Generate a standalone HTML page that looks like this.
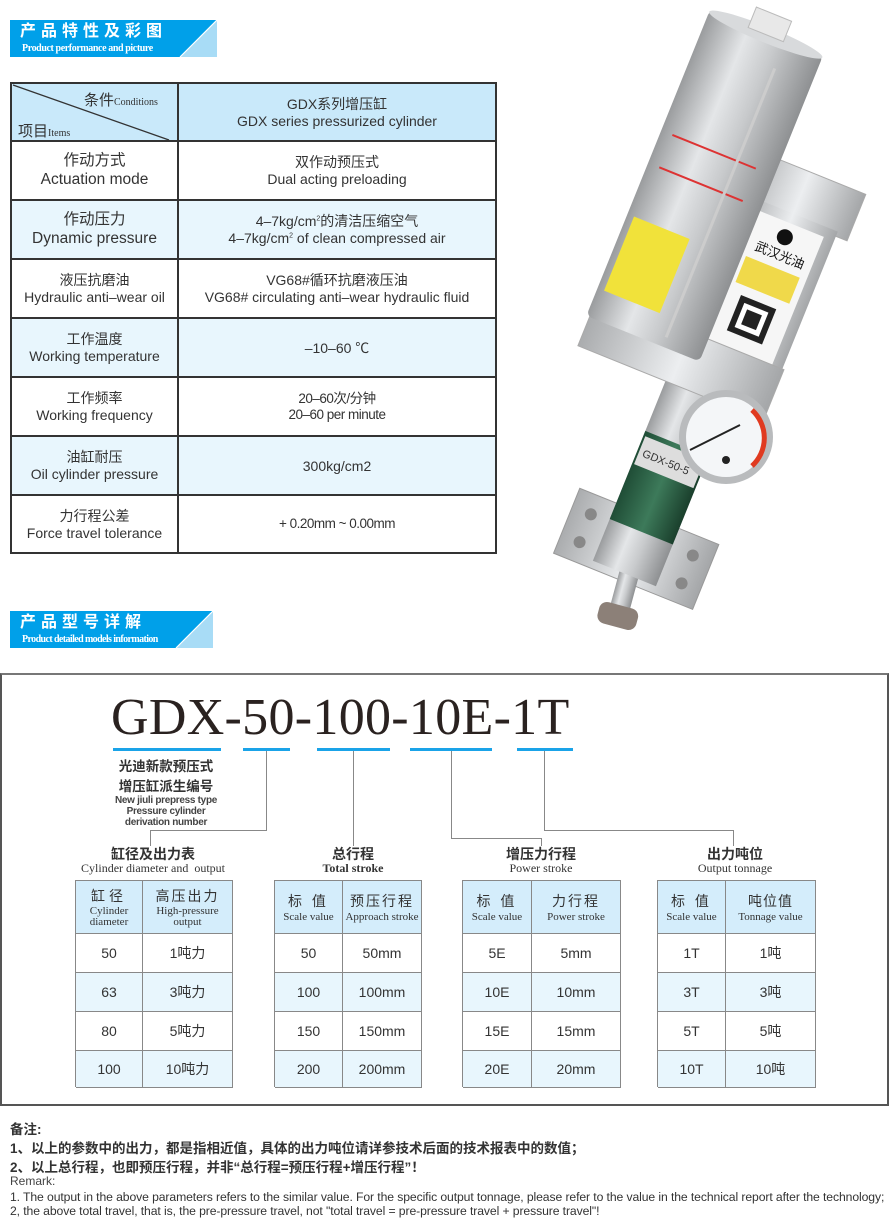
<!DOCTYPE html>
<html><head><meta charset="utf-8"><style>
*{margin:0;padding:0;box-sizing:border-box}
body{width:890px;height:1216px;background:#fff;position:relative;overflow:hidden;font-family:"Liberation Sans","Noto Sans CJK SC",sans-serif;color:#333}
.a{position:absolute}
.banner{position:absolute;height:37px;background:#00a0e9;overflow:hidden}
.banner .cn{position:absolute;left:10px;top:1px;color:#fff;font-size:16px;font-weight:bold;letter-spacing:5px;white-space:nowrap;line-height:21px}
.banner .en{position:absolute;left:12px;top:23px;color:#fff;font-family:"Liberation Serif",serif;font-size:10px;font-weight:bold;white-space:nowrap;letter-spacing:-0.4px;line-height:11px}
.cell{position:absolute;display:flex;flex-direction:column;align-items:center;justify-content:center;text-align:center;line-height:1.2}
.hl{position:absolute;background:#333;height:2px}
.vl{position:absolute;background:#333;width:2px}
.sc{position:absolute;display:flex;flex-direction:column;align-items:center;justify-content:center;text-align:center;font-size:14px;border-right:1px solid #888;border-bottom:1px solid #888}
.ser{font-family:"Liberation Serif",serif}
.ttl{position:absolute;text-align:center;line-height:1.15}
.ttl .c{font-size:14px;font-weight:bold;color:#333}
.ttl .e{font-family:"Liberation Serif",serif;font-size:12px;color:#333}
.ln{position:absolute;background:#888}
.ul{position:absolute;top:748px;height:3px;background:#1aa3e8}
.rm{position:absolute;left:10px;white-space:nowrap}
</style></head><body>

<div class="banner" style="left:10px;top:20px;width:207px">
<div class="cn">产品特性及彩图</div><div class="en">Product performance and picture</div>
<svg class="a" style="left:0;top:0" width="207" height="37"><polygon points="207,0 207,37 170,37" fill="#a8dcf6"/><line x1="207" y1="0" x2="170" y2="37" stroke="#fff" stroke-width="1.2"/></svg>
</div>

<div class="a" style="left:10px;top:82px;width:486px;height:471px;background:#fff"></div>
<div class="a" style="left:10px;top:82px;width:486px;height:59px;background:#c9e9fa"></div>
<div class="a" style="left:10px;top:200px;width:486px;height:59px;background:#e8f6fd"></div>
<div class="a" style="left:10px;top:318px;width:486px;height:59px;background:#e8f6fd"></div>
<div class="a" style="left:10px;top:436px;width:486px;height:59px;background:#e8f6fd"></div>
<div class="hl" style="left:10px;top:82px;width:486px"></div>
<div class="hl" style="left:10px;top:140px;width:486px"></div>
<div class="hl" style="left:10px;top:199px;width:486px"></div>
<div class="hl" style="left:10px;top:258px;width:486px"></div>
<div class="hl" style="left:10px;top:317px;width:486px"></div>
<div class="hl" style="left:10px;top:376px;width:486px"></div>
<div class="hl" style="left:10px;top:435px;width:486px"></div>
<div class="hl" style="left:10px;top:494px;width:486px"></div>
<div class="hl" style="left:10px;top:552px;width:487px"></div>
<div class="vl" style="left:10px;top:82px;height:472px"></div>
<div class="vl" style="left:177px;top:82px;height:472px"></div>
<div class="vl" style="left:495px;top:82px;height:472px"></div>
<svg class="a" style="left:10px;top:82px" width="170" height="60"><line x1="3" y1="3" x2="159" y2="58" stroke="#333" stroke-width="1.3"/></svg>
<div class="a" style="left:84px;top:89px;font-size:15px">条件<span class="ser" style="font-size:10px">Conditions</span></div>
<div class="a" style="left:18px;top:120px;font-size:15px">项目<span class="ser" style="font-size:10px">Items</span></div>

<div class="cell" style="left:179px;top:84px;width:316px;height:57px;font-size:14px"><div>GDX系列增压缸</div><div>GDX series pressurized cylinder</div></div>

<div class="cell" style="left:12px;top:142px;width:165px;height:58px;font-size:15.5px"><div>作动方式</div><div>Actuation mode</div></div>
<div class="cell" style="left:179px;top:142px;width:316px;height:58px;font-size:14px"><div>双作动预压式</div><div>Dual acting preloading</div></div>

<div class="cell" style="left:12px;top:201px;width:165px;height:58px;font-size:15.5px"><div>作动压力</div><div>Dynamic pressure</div></div>
<div class="cell" style="left:179px;top:201px;width:316px;height:58px;font-size:14px"><div>4–7kg/cm<sup style="font-size:7px">2</sup>的清洁压缩空气</div><div>4–7kg/cm<sup style="font-size:7px">2</sup> of clean compressed air</div></div>

<div class="cell" style="left:12px;top:260px;width:165px;height:58px;font-size:14px"><div>液压抗磨油</div><div>Hydraulic anti–wear oil</div></div>
<div class="cell" style="left:179px;top:260px;width:316px;height:58px;font-size:14px"><div>VG68#循环抗磨液压油</div><div>VG68# circulating anti–wear hydraulic fluid</div></div>

<div class="cell" style="left:12px;top:319px;width:165px;height:58px;font-size:14px"><div>工作温度</div><div>Working temperature</div></div>
<div class="cell" style="left:179px;top:319px;width:316px;height:58px;font-size:14px"><div>–10–60 ℃</div></div>

<div class="cell" style="left:12px;top:378px;width:165px;height:58px;font-size:14px"><div>工作频率</div><div>Working frequency</div></div>
<div class="cell" style="left:179px;top:378px;width:316px;height:58px;font-size:13.5px;letter-spacing:-0.5px"><div>20–60次/分钟</div><div>20–60 per minute</div></div>

<div class="cell" style="left:12px;top:437px;width:165px;height:58px;font-size:14px"><div>油缸耐压</div><div>Oil cylinder pressure</div></div>
<div class="cell" style="left:179px;top:437px;width:316px;height:58px;font-size:14px"><div>300kg/cm2</div></div>

<div class="cell" style="left:12px;top:496px;width:165px;height:57px;font-size:14px"><div>力行程公差</div><div>Force travel tolerance</div></div>
<div class="cell" style="left:179px;top:496px;width:316px;height:57px;font-size:13.5px;letter-spacing:-0.5px"><div>+ 0.20mm ~ 0.00mm</div></div>

<svg class="a" style="left:540px;top:0" width="350" height="640">
<defs>
<linearGradient id="g1" x1="0" x2="1" y1="0" y2="0"><stop offset="0" stop-color="#9a9c9e"/><stop offset="0.35" stop-color="#e4e6e8"/><stop offset="0.6" stop-color="#c8cacc"/><stop offset="1" stop-color="#8e9092"/></linearGradient>
<linearGradient id="g2" x1="0" x2="1" y1="0" y2="0"><stop offset="0" stop-color="#aaacae"/><stop offset="0.5" stop-color="#eceef0"/><stop offset="1" stop-color="#a4a6a8"/></linearGradient>
<linearGradient id="g3" x1="0" x2="1"><stop offset="0" stop-color="#1f4d36"/><stop offset="0.5" stop-color="#3d7a5a"/><stop offset="1" stop-color="#1a3f2c"/></linearGradient>
</defs>
<g transform="rotate(22 60 545)"><rect x="20" y="500" width="150" height="70" fill="url(#g2)" stroke="#999"/><circle cx="40" cy="520" r="6" fill="#888"/><circle cx="150" cy="520" r="6" fill="#888"/><circle cx="40" cy="550" r="6" fill="#888"/><circle cx="150" cy="550" r="6" fill="#888"/></g>
<g transform="rotate(15 80 600)"><rect x="72" y="570" width="20" height="50" fill="url(#g1)"/><rect x="62" y="605" width="40" height="22" rx="8" fill="#8c8078"/></g>
<g transform="rotate(22 120 480)"><rect x="88" y="380" width="68" height="200" fill="url(#g1)"/><rect x="88" y="440" width="68" height="95" fill="url(#g3)"/><rect x="90" y="445" width="64" height="30" fill="#ddd"/><text x="94" y="465" font-size="11" fill="#333" font-family="Liberation Sans">GDX-50-5</text></g>
<g transform="rotate(22 240 300) translate(-20 10)"><rect x="180" y="160" width="120" height="50" fill="url(#g2)" stroke="#aaa"/><rect x="192" y="205" width="96" height="200" fill="url(#g2)"/><rect x="205" y="215" width="72" height="165" fill="#f6f6f6"/><circle cx="241" cy="230" r="8" fill="#111"/><text x="217" y="253" font-size="13" fill="#111" font-family="Liberation Sans, Noto Sans CJK SC, sans-serif">武汉光油</text><rect x="212" y="262" width="58" height="28" fill="#f0d94a"/><rect x="222" y="300" width="38" height="38" fill="#222"/><rect x="228" y="306" width="26" height="26" fill="#fff"/><rect x="233" y="311" width="16" height="16" fill="#222"/></g>
<g transform="rotate(22 140 360)"><rect x="40" y="330" width="200" height="55" fill="url(#g2)" stroke="#aaa"/></g>
<g transform="rotate(22 160 200)"><rect x="98" y="20" width="122" height="330" rx="6" fill="url(#g1)"/><ellipse cx="159" cy="22" rx="61" ry="8" fill="#d8dadc"/><rect x="140" y="0" width="38" height="22" fill="#e8e8e8" stroke="#bbb"/><rect x="105" y="240" width="60" height="80" fill="#f1e23a"/><line x1="110" y1="150" x2="200" y2="150" stroke="#d33" stroke-width="2"/><line x1="110" y1="185" x2="200" y2="185" stroke="#d33" stroke-width="2"/><line x1="180" y1="50" x2="180" y2="340" stroke="#ccc" stroke-width="3"/></g>
<circle cx="186" cy="437" r="47" fill="#b9bbbd"/><circle cx="186" cy="437" r="40" fill="#f4f6f8"/><path d="M212 410 A38 38 0 0 1 212 466" stroke="#e03a20" stroke-width="5" fill="none"/><line x1="150" y1="450" x2="200" y2="425" stroke="#222" stroke-width="2"/><circle cx="186" cy="460" r="4" fill="#222"/>
</svg>

<div class="banner" style="left:10px;top:611px;width:203px">
<div class="cn">产品型号详解</div><div class="en" style="letter-spacing:-0.6px">Product detailed models information</div>
<svg class="a" style="left:0;top:0" width="203" height="37"><polygon points="203,0 203,37 166,37" fill="#a8dcf6"/><line x1="203" y1="0" x2="166" y2="37" stroke="#fff" stroke-width="1.2"/></svg>
</div>

<div class="a" style="left:0;top:673px;width:889px;height:433px;border:2px solid #555;border-top-color:#777"></div>
<div class="a ser" style="left:111px;top:692px;font-size:52px;letter-spacing:0.3px;color:#2a2220;white-space:nowrap;line-height:1">GDX-50-100-10E-1T</div>
<div class="ul" style="left:113px;width:108px"></div>
<div class="ul" style="left:243px;width:47px"></div>
<div class="ul" style="left:317px;width:73px"></div>
<div class="ul" style="left:410px;width:82px"></div>
<div class="ul" style="left:517px;width:56px"></div>

<div class="a" style="left:113px;top:757px;width:106px;text-align:center;font-size:13.5px;font-weight:bold;line-height:20px;color:#333">光迪新款预压式<br>增压缸派生编号</div>
<div class="a" style="left:100px;top:795px;width:132px;text-align:center;font-size:10px;font-weight:bold;line-height:11px;color:#444;letter-spacing:-0.3px">New jiuli prepress type<br>Pressure cylinder<br>derivation number</div>

<div class="ln" style="left:266px;top:751px;width:1px;height:80px"></div>
<div class="ln" style="left:150px;top:830px;width:117px;height:1px"></div>
<div class="ln" style="left:150px;top:830px;width:1px;height:16px"></div>
<div class="ln" style="left:353px;top:751px;width:1px;height:95px"></div>
<div class="ln" style="left:451px;top:751px;width:1px;height:88px"></div>
<div class="ln" style="left:451px;top:838px;width:91px;height:1px"></div>
<div class="ln" style="left:541px;top:838px;width:1px;height:8px"></div>
<div class="ln" style="left:544px;top:751px;width:1px;height:80px"></div>
<div class="ln" style="left:544px;top:830px;width:190px;height:1px"></div>
<div class="ln" style="left:733px;top:830px;width:1px;height:16px"></div>

<div class="ttl" style="left:60px;top:846px;width:186px"><div class="c">缸径及出力表</div><div class="e">Cylinder diameter and&nbsp; output</div></div>
<div class="ttl" style="left:290px;top:846px;width:126px"><div class="c">总行程</div><div class="e" style="font-weight:bold">Total stroke</div></div>
<div class="ttl" style="left:470px;top:846px;width:142px"><div class="c">增压力行程</div><div class="e">Power stroke</div></div>
<div class="ttl" style="left:670px;top:846px;width:130px"><div class="c">出力吨位</div><div class="e">Output tonnage</div></div>

<div class="a" style="left:75px;top:880px;width:158px;height:207px;border-left:1px solid #888;border-top:1px solid #888">
 <div class="sc" style="left:0;top:0;width:67px;height:53px;background:#d4edfb"><div style="font-size:14px;letter-spacing:4px">缸径</div><div class="ser" style="font-size:11px;line-height:11px">Cylinder<br>diameter</div></div>
 <div class="sc" style="left:67px;top:0;width:90px;height:53px;background:#d4edfb"><div style="font-size:14px;letter-spacing:2px">高压出力</div><div class="ser" style="font-size:11px;line-height:11px">High-pressure<br>output</div></div>
 <div class="sc" style="left:0;top:53px;width:67px;height:39px">50</div><div class="sc" style="left:67px;top:53px;width:90px;height:39px">1吨力</div>
 <div class="sc" style="left:0;top:92px;width:67px;height:39px;background:#e8f6fd">63</div><div class="sc" style="left:67px;top:92px;width:90px;height:39px;background:#e8f6fd">3吨力</div>
 <div class="sc" style="left:0;top:131px;width:67px;height:39px">80</div><div class="sc" style="left:67px;top:131px;width:90px;height:39px">5吨力</div>
 <div class="sc" style="left:0;top:170px;width:67px;height:37px;background:#e8f6fd">100</div><div class="sc" style="left:67px;top:170px;width:90px;height:37px;background:#e8f6fd">10吨力</div>
</div>

<div class="a" style="left:274px;top:880px;width:148px;height:207px;border-left:1px solid #888;border-top:1px solid #888">
 <div class="sc" style="left:0;top:0;width:68px;height:53px;background:#d4edfb"><div style="font-size:14px;letter-spacing:3px">标 值</div><div class="ser" style="font-size:11px">Scale value</div></div>
 <div class="sc" style="left:68px;top:0;width:79px;height:53px;background:#d4edfb"><div style="font-size:14px;letter-spacing:2px">预压行程</div><div class="ser" style="font-size:11px;white-space:nowrap">Approach stroke</div></div>
 <div class="sc" style="left:0;top:53px;width:68px;height:39px">50</div><div class="sc" style="left:68px;top:53px;width:79px;height:39px">50mm</div>
 <div class="sc" style="left:0;top:92px;width:68px;height:39px;background:#e8f6fd">100</div><div class="sc" style="left:68px;top:92px;width:79px;height:39px;background:#e8f6fd">100mm</div>
 <div class="sc" style="left:0;top:131px;width:68px;height:39px">150</div><div class="sc" style="left:68px;top:131px;width:79px;height:39px">150mm</div>
 <div class="sc" style="left:0;top:170px;width:68px;height:37px;background:#e8f6fd">200</div><div class="sc" style="left:68px;top:170px;width:79px;height:37px;background:#e8f6fd">200mm</div>
</div>

<div class="a" style="left:462px;top:880px;width:159px;height:207px;border-left:1px solid #888;border-top:1px solid #888">
 <div class="sc" style="left:0;top:0;width:69px;height:53px;background:#d4edfb"><div style="font-size:14px;letter-spacing:3px">标 值</div><div class="ser" style="font-size:11px">Scale value</div></div>
 <div class="sc" style="left:69px;top:0;width:89px;height:53px;background:#d4edfb"><div style="font-size:14px;letter-spacing:2px">力行程</div><div class="ser" style="font-size:11px">Power stroke</div></div>
 <div class="sc" style="left:0;top:53px;width:69px;height:39px">5E</div><div class="sc" style="left:69px;top:53px;width:89px;height:39px">5mm</div>
 <div class="sc" style="left:0;top:92px;width:69px;height:39px;background:#e8f6fd">10E</div><div class="sc" style="left:69px;top:92px;width:89px;height:39px;background:#e8f6fd">10mm</div>
 <div class="sc" style="left:0;top:131px;width:69px;height:39px">15E</div><div class="sc" style="left:69px;top:131px;width:89px;height:39px">15mm</div>
 <div class="sc" style="left:0;top:170px;width:69px;height:37px;background:#e8f6fd">20E</div><div class="sc" style="left:69px;top:170px;width:89px;height:37px;background:#e8f6fd">20mm</div>
</div>

<div class="a" style="left:657px;top:880px;width:159px;height:207px;border-left:1px solid #888;border-top:1px solid #888">
 <div class="sc" style="left:0;top:0;width:68px;height:53px;background:#d4edfb"><div style="font-size:14px;letter-spacing:3px">标 值</div><div class="ser" style="font-size:11px">Scale value</div></div>
 <div class="sc" style="left:68px;top:0;width:90px;height:53px;background:#d4edfb"><div style="font-size:14px;letter-spacing:1px">吨位值</div><div class="ser" style="font-size:11px">Tonnage value</div></div>
 <div class="sc" style="left:0;top:53px;width:68px;height:39px">1T</div><div class="sc" style="left:68px;top:53px;width:90px;height:39px">1吨</div>
 <div class="sc" style="left:0;top:92px;width:68px;height:39px;background:#e8f6fd">3T</div><div class="sc" style="left:68px;top:92px;width:90px;height:39px;background:#e8f6fd">3吨</div>
 <div class="sc" style="left:0;top:131px;width:68px;height:39px">5T</div><div class="sc" style="left:68px;top:131px;width:90px;height:39px">5吨</div>
 <div class="sc" style="left:0;top:170px;width:68px;height:37px;background:#e8f6fd">10T</div><div class="sc" style="left:68px;top:170px;width:90px;height:37px;background:#e8f6fd">10吨</div>
</div>

<div class="rm" style="top:1118px;font-size:13.5px;font-weight:bold">备注:</div>
<div class="rm" style="top:1137px;font-size:13.5px;font-weight:bold">1、以上的参数中的出力，都是指相近值，具体的出力吨位请详参技术后面的技术报表中的数值；</div>
<div class="rm" style="top:1156px;font-size:13.5px;font-weight:bold">2、以上总行程，也即预压行程，并非“总行程=预压行程+增压行程”！</div>
<div class="rm" style="top:1174px;font-size:12px;color:#444">Remark:</div>
<div class="rm" style="top:1190px;font-size:12.2px;color:#333;line-height:14px;letter-spacing:-0.1px">1. The output in the above parameters refers to the similar value. For the specific output tonnage, please refer to the value in the technical report after the technology;</div>
<div class="rm" style="top:1204px;font-size:12.2px;color:#333;line-height:14px;letter-spacing:-0.1px">2, the above total travel, that is, the pre-pressure travel, not "total travel = pre-pressure travel + pressure travel"!</div>
</body></html>
